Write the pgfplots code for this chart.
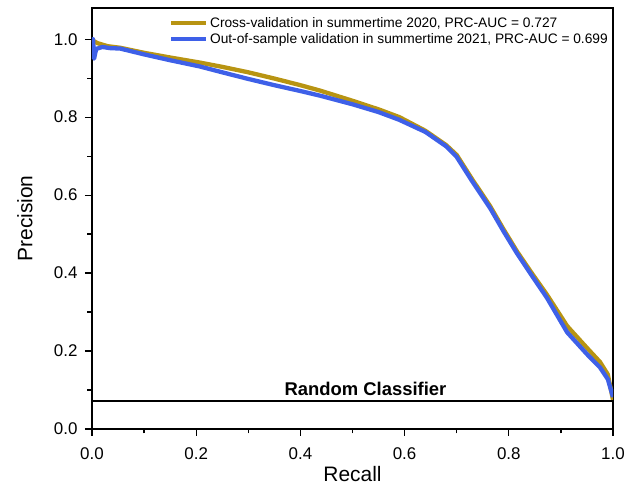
\documentclass[border=0pt]{standalone}
\usepackage{fontspec}
\setmainfont{Liberation Sans}
\usepackage{pgfplots}
\pgfplotsset{compat=1.18}
\definecolor{cvgold}{RGB}{184,148,18}
\definecolor{oosblue}{RGB}{62,96,232}
\begin{document}
\begin{tikzpicture}
\begin{axis}[
  scale only axis,
  width=521bp, height=421bp,
  xmin=0, xmax=1, ymin=0, ymax=1.08,
  axis line style={line width=1.4bp},
  xtick={0,0.2,...,1.0}, ytick={0,0.2,...,1.0},
  minor xtick={0.1,0.3,...,0.9}, minor ytick={0.1,0.3,...,0.9},
  tick align=outside,
  xtick pos=bottom, ytick pos=left,
  major tick length=7bp, minor tick length=4.5bp,
  every tick/.style={line width=1.2bp, black},
  /pgf/number format/assume math mode=true,
  xticklabel style={yshift=-8bp, /pgf/number format/.cd, fixed, fixed zerofill, precision=1},
  yticklabel style={xshift=-4bp, /pgf/number format/.cd, fixed, fixed zerofill, precision=1},
  ticklabel style={font=\fontsize{17}{20}\selectfont},
  xlabel={Recall}, ylabel={Precision},
  label style={font=\fontsize{21}{24}\selectfont},
  xlabel style={at={(axis description cs:0.5,0)}, anchor=center, yshift=-45bp},
  ylabel style={at={(axis description cs:0,0.5)}, anchor=center, yshift=67bp},
  legend style={at={(1,1)}, anchor=north east, xshift=-2bp, yshift=-6bp,
    draw=none, fill=none, font=\fontsize{13.8}{15}\selectfont,
    row sep=1bp, inner sep=1bp},
  legend cell align=left,
  legend image code/.code={\draw[#1, line width=4bp] (0bp,0bp) -- (35bp,0bp);},
]
\addplot[cvgold, line width=4.3bp, line join=round] coordinates {
(0,0.998) (0.01,0.990) (0.03,0.982) (0.054,0.978) (0.1,0.965) (0.15,0.953)
(0.207,0.940) (0.25,0.929) (0.3,0.915) (0.35,0.899) (0.4,0.882) (0.438,0.868)
(0.5,0.842) (0.55,0.820) (0.59,0.800) (0.64,0.765) (0.68,0.728) (0.70,0.703)
(0.73,0.640) (0.764,0.572) (0.79,0.512) (0.816,0.455) (0.845,0.398) (0.873,0.345)
(0.912,0.264) (0.95,0.208) (0.975,0.172) (0.99,0.140) (1.0,0.075)
};
\addlegendentry{Cross-validation in summertime 2020, PRC-AUC = 0.727}
\addplot[oosblue, line width=4.3bp, line join=round] coordinates {
(0,0.960) (0.002,1.0) (0.004,0.950) (0.008,0.975) (0.02,0.980) (0.035,0.977)
(0.054,0.976) (0.1,0.961) (0.15,0.946) (0.207,0.930) (0.25,0.915) (0.3,0.898)
(0.35,0.882) (0.4,0.867) (0.438,0.855) (0.5,0.833) (0.55,0.813) (0.59,0.793)
(0.64,0.762) (0.68,0.725) (0.70,0.698) (0.73,0.635) (0.764,0.567) (0.79,0.507)
(0.816,0.450) (0.845,0.392) (0.873,0.337) (0.912,0.248) (0.95,0.192)
(0.975,0.158) (0.99,0.128) (1.0,0.082)
};
\addlegendentry{Out-of-sample validation in summertime 2021, PRC-AUC = 0.699}
\addplot[black, line width=2bp, forget plot] coordinates {(0,0.073) (1,0.073)};
\node[font=\bfseries\fontsize{18.5}{20}\selectfont, anchor=base, inner sep=0pt] at (axis cs:0.525,0.086) {Random Classifier};
\end{axis}
\pgfresetboundingbox
\path (-92bp,-59bp) rectangle (545bp,429bp);
\end{tikzpicture}
\end{document}
